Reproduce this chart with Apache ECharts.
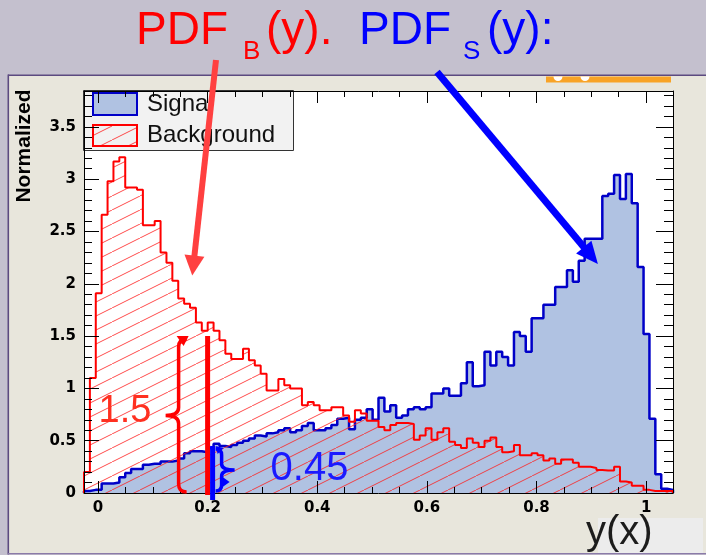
<!DOCTYPE html>
<html>
<head>
<meta charset="utf-8">
<script src="https://cdn.jsdelivr.net/npm/echarts@6/dist/echarts.min.js"></script>
<style>
  html, body { margin: 0; padding: 0; background: #c4c0ce; }
  #chart { width: 706px; height: 555px; }
</style>
</head>
<body>
<div id="chart"></div>
<script>
// MVA output range covered by the 100 histogram bins
const xRange = [-0.0255, 1.049];
const yMax = 3.843;
const yTickStep = 0.5;

// Normalised signal distribution, one value per bin
const signalValues = [
  0.02, 0.03, 0.03, 0.09, 0.09, 0.10, 0.15, 0.19, 0.23, 0.23,
  0.27, 0.28, 0.28, 0.30, 0.30, 0.31, 0.33, 0.38, 0.40, 0.40,
  0.39, 0.43, 0.47, 0.45, 0.44, 0.46, 0.48, 0.50, 0.52, 0.55,
  0.54, 0.57, 0.58, 0.60, 0.62, 0.58, 0.60, 0.64, 0.67, 0.60,
  0.60, 0.62, 0.65, 0.71, 0.72, 0.61, 0.70, 0.72, 0.80, 0.70,
  0.91, 0.78, 0.84, 0.72, 0.74, 0.80, 0.82, 0.80, 0.82, 0.95,
  0.95, 1.00, 0.93, 0.93, 1.05, 1.25, 1.02, 1.03, 1.35, 1.22,
  1.35, 1.30, 1.22, 1.54, 1.50, 1.35, 1.67, 1.67, 1.80, 1.80,
  1.97, 1.97, 2.13, 2.02, 2.22, 2.43, 2.43, 2.43, 2.84, 2.86,
  3.04, 2.81, 3.05, 2.77, 2.16, 1.52, 0.71, 0.18, 0.04, 0.03
];

// Normalised background distribution, one value per bin
const backgroundValues = [
  0.20, 1.10, 1.91, 2.66, 2.98, 3.17, 3.21, 2.92, 2.92, 2.90,
  2.56, 2.56, 2.60, 2.30, 2.20, 2.03, 1.86, 1.81, 1.77, 1.63,
  1.55, 1.63, 1.55, 1.46, 1.33, 1.28, 1.28, 1.38, 1.27, 1.22,
  1.14, 0.98, 0.98, 1.09, 1.03, 1.00, 1.00, 0.84, 0.87, 0.84,
  0.79, 0.79, 0.82, 0.82, 0.74, 0.68, 0.79, 0.76, 0.69, 0.69,
  0.63, 0.60, 0.65, 0.67, 0.67, 0.66, 0.51, 0.55, 0.62, 0.51,
  0.58, 0.62, 0.49, 0.46, 0.43, 0.52, 0.48, 0.44, 0.50, 0.53,
  0.44, 0.39, 0.40, 0.46, 0.36, 0.36, 0.38, 0.36, 0.31, 0.33,
  0.28, 0.32, 0.32, 0.29, 0.25, 0.25, 0.24, 0.22, 0.215, 0.215,
  0.25, 0.11, 0.10, 0.07, 0.07, 0.03, 0.02, 0.02, 0.02, 0.02
];

// Cut value y = 0.2 and the two PDF heights read there
const cutX = 0.2;
const cutBackground = 1.5;
const cutSignal = 0.45;

const seriesNames = ['Signal', 'Background'];

const FONT = '"Liberation Sans", Arial, Helvetica, sans-serif';
const TICK_FONT = '"DejaVu Sans", Verdana, sans-serif';
const RED = '#ff0000';
const BLUE = '#0000ff';
const SIG_FILL = '#b0c2e2';
const SIG_LINE = '#0000c8';

// Step-histogram outline: one point per left bin edge, closed down to zero at both ends
function histPoints(values) {
  const n = values.length;
  const w = (xRange[1] - xRange[0]) / n;
  const pts = [[xRange[0], 0]];
  values.forEach((v, i) => pts.push([xRange[0] + i * w, v]));
  pts.push([xRange[1], values[n - 1]]);
  pts.push([xRange[1], 0]);
  return pts;
}

// Diagonal hatch tile used for the background fill
function hatchTile() {
  const W = 28, H = 14;
  const c = document.createElement('canvas');
  c.width = W; c.height = H;
  const g = c.getContext('2d');
  g.strokeStyle = 'rgba(255,30,30,0.8)';
  g.lineWidth = 1;
  [-W, 0, W].forEach(dx => {
    g.beginPath();
    g.moveTo(dx, H);
    g.lineTo(dx + W, 0);
    g.stroke();
  });
  return c;
}
const hatch = { image: hatchTile(), repeat: 'repeat' };

function arrowParts(tail, tip, color, width, headLen, headHalf) {
  const dx = tip[0] - tail[0], dy = tip[1] - tail[1];
  const L = Math.hypot(dx, dy);
  const ux = dx / L, uy = dy / L, px = -uy, py = ux;
  const bx = tip[0] - ux * headLen, by = tip[1] - uy * headLen;
  return [
    { type: 'line', shape: { x1: tail[0], y1: tail[1], x2: bx + ux * 2, y2: by + uy * 2 },
      style: { stroke: color, lineWidth: width } },
    { type: 'polygon', shape: { points: [[tip[0], tip[1]], [bx + px * headHalf, by + py * headHalf], [bx - px * headHalf, by - py * headHalf]] },
      style: { fill: color } }
  ];
}

// Curly brace; dir = -1 opens like "{", dir = +1 like "}"
function bracePath(x, top, bot, dir, depth, r) {
  const mid = (top + bot) / 2;
  return `M ${x - dir * r} ${top} Q ${x} ${top} ${x} ${top + r} L ${x} ${mid - r} ` +
         `Q ${x} ${mid} ${x + dir * depth} ${mid} Q ${x} ${mid} ${x} ${mid + r} ` +
         `L ${x} ${bot - r} Q ${x} ${bot} ${x - dir * r} ${bot}`;
}

function renderCut(params, api) {
  const x0 = api.value(0), yB = api.value(1), yS = api.value(2);
  const pB = api.coord([x0, yB]);
  const pS = api.coord([x0, yS]);
  const p0 = api.coord([x0, 0]);
  const xs = p0[0] + 5;
  const braceRx = pB[0] - 29;
  const braceSx = xs + 9;
  const children = [
    // arrows from the title to the two distributions
    ...arrowParts([216, 60], api.coord([0.172, 2.08]), '#ff4040', 6, 20, 10),
    ...arrowParts([437, 72], api.coord([0.912, 2.19]), BLUE, 7, 22, 10),
    // background height at the cut
    { type: 'line', shape: { x1: pB[0], y1: pB[1], x2: p0[0], y2: p0[1] + 2 },
      style: { stroke: RED, lineWidth: 5 } },
    { type: 'path', shape: { pathData: bracePath(braceRx, pB[1] + 3, p0[1] - 1, -1, 13, 8) },
      style: { stroke: RED, lineWidth: 3.5, fill: null } },
    { type: 'polygon', shape: { points: [[braceRx - 2, pB[1]], [braceRx + 10, pB[1]], [braceRx + 5, pB[1] + 10]] },
      style: { fill: RED } },
    { type: 'text', x: braceRx - 80, y: (pB[1] + p0[1]) / 2 - 3,
      style: { text: String(yB), fill: '#ff3020', fontSize: 38, fontFamily: FONT, verticalAlign: 'middle', align: 'left' } },
    // signal height at the cut
    { type: 'line', shape: { x1: xs, y1: pS[1], x2: xs, y2: p0[1] + 7 },
      style: { stroke: BLUE, lineWidth: 5 } },
    { type: 'path', shape: { pathData: bracePath(braceSx, pS[1] + 3, p0[1] - 2, 1, 13, 6) },
      style: { stroke: BLUE, lineWidth: 3.5, fill: null } },
    { type: 'polygon', shape: { points: [[braceSx - 6, pS[1]], [braceSx + 2, pS[1] + 2], [braceSx - 4, pS[1] + 8]] },
      style: { fill: BLUE } },
    { type: 'polygon', shape: { points: [[braceSx + 1, p0[1] - 16], [braceSx + 8, p0[1] - 11], [braceSx + 1, p0[1] - 6]] },
      style: { fill: BLUE } },
    { type: 'text', x: xs + 58, y: (pS[1] + p0[1]) / 2,
      style: { text: String(yS), fill: '#1a1aff', fontSize: 40, fontFamily: FONT, verticalAlign: 'middle', align: 'left' } }
  ];
  return { type: 'group', children };
}

function titlePiece(text, x, y, size, color) {
  return { type: 'text', x, y, z: 6,
    style: { text, fill: color, fontSize: size, fontFamily: FONT, verticalAlign: 'middle', align: 'left' } };
}

const tickLine = { color: '#000', width: 1 };

const xAxisBase = {
  type: 'value', min: xRange[0], max: xRange[1], splitNumber: 5,
  splitLine: { show: false }, z: 5,
  axisLine: { show: true, onZero: false, lineStyle: tickLine }
};
const yAxisBase = {
  type: 'value', min: 0, max: yMax, interval: yTickStep,
  splitLine: { show: false }, z: 5,
  axisLine: { show: true, onZero: false, lineStyle: tickLine }
};

const option = {
  backgroundColor: '#e8e6dc',
  animation: false,
  grid: { left: 84, top: 91, width: 589, height: 402, show: true, backgroundColor: '#ffffff',
          borderWidth: 0, outerBoundsMode: 'none', containLabel: false },
  xAxis: [
    Object.assign({}, xAxisBase, {
      position: 'bottom',
      axisTick: { show: true, inside: true, length: 12, lineStyle: tickLine },
      minorTick: { show: true, splitNumber: 4, length: 6, lineStyle: tickLine },
      axisLabel: { show: true, showMinLabel: false, showMaxLabel: false, margin: 8,
                   color: '#000', fontSize: 15, fontWeight: 'bold', fontFamily: TICK_FONT }
    }),
    Object.assign({}, xAxisBase, {
      position: 'top',
      axisTick: { show: true, inside: true, length: 12, lineStyle: tickLine },
      minorTick: { show: true, splitNumber: 4, length: 6, lineStyle: tickLine },
      axisLabel: { show: false }
    })
  ],
  yAxis: [
    Object.assign({}, yAxisBase, {
      position: 'left',
      axisTick: { show: true, inside: true, length: 15, lineStyle: tickLine },
      minorTick: { show: true, splitNumber: 5, length: 8, lineStyle: tickLine },
      axisLabel: { show: true, showMinLabel: true, showMaxLabel: false, margin: 8,
                   color: '#000', fontSize: 15, fontWeight: 'bold', fontFamily: TICK_FONT }
    }),
    Object.assign({}, yAxisBase, {
      position: 'right',
      axisTick: { show: true, inside: true, length: 17, lineStyle: tickLine },
      minorTick: { show: true, splitNumber: 5, length: 9, lineStyle: tickLine },
      axisLabel: { show: false }
    })
  ],
  series: [
    {
      name: seriesNames[0], type: 'line', step: 'end', data: histPoints(signalValues),
      symbol: 'none', showSymbol: false, z: 2, silent: true,
      lineStyle: { color: SIG_LINE, width: 2.5 },
      areaStyle: { color: SIG_FILL, opacity: 1 }
    },
    {
      name: seriesNames[1], type: 'line', step: 'end', data: histPoints(backgroundValues),
      symbol: 'none', showSymbol: false, z: 3, silent: true,
      lineStyle: { color: RED, width: 2 },
      areaStyle: { color: hatch, opacity: 1 }
    },
    {
      name: 'cut', type: 'custom', coordinateSystem: 'cartesian2d',
      data: [[cutX, cutBackground, cutSignal]], encode: { x: 0, y: [1, 2] },
      renderItem: renderCut, z: 10, silent: true, clip: false
    }
  ],
  graphic: [
    // slide frame around the canvas
    { type: 'rect', z: 0, shape: { x: 0, y: 0, width: 706, height: 75 }, style: { fill: '#c4c0ce' } },
    { type: 'rect', z: 0, shape: { x: 0, y: 75, width: 8, height: 480 }, style: { fill: '#c4c0ce' } },
    { type: 'rect', z: 0, shape: { x: 0, y: 554, width: 706, height: 1 }, style: { fill: '#c4c0ce' } },
    { type: 'rect', z: 1, shape: { x: 8, y: 74.5, width: 698, height: 1.6 }, style: { fill: '#5c4a80' } },
    { type: 'rect', z: 1, shape: { x: 7.5, y: 74.5, width: 1.6, height: 480 }, style: { fill: '#5c4a80' } },
    { type: 'rect', z: 1, shape: { x: 8, y: 553, width: 698, height: 1.2 }, style: { fill: '#8a7aa8' } },
    // orange toolbar strip
    { type: 'rect', z: 1, shape: { x: 546, y: 76.5, width: 125, height: 6 }, style: { fill: '#f8a326' } },
    { type: 'sector', z: 2, shape: { cx: 558, cy: 76.5, r: 4.5, startAngle: 0, endAngle: Math.PI }, style: { fill: '#ffffff' } },
    { type: 'sector', z: 2, shape: { cx: 585, cy: 76.5, r: 4.5, startAngle: 0, endAngle: Math.PI }, style: { fill: '#ffffff' } },
    // title
    titlePiece('PDF', 136, 31, 46, RED),
    titlePiece('B', 243, 52, 26, RED),
    titlePiece('(y).', 266, 31, 46, RED),
    titlePiece('PDF', 359, 31, 46, BLUE),
    titlePiece('S', 463, 52, 26, BLUE),
    titlePiece('(y):', 487, 31, 46, BLUE),
    // y axis title
    { type: 'text', z: 6, x: 24, y: 146, rotation: Math.PI / 2,
      style: { text: 'Normalized', fill: '#000', fontSize: 21, fontWeight: 'bold', fontFamily: FONT,
               align: 'center', verticalAlign: 'middle' } },
    // legend
    { type: 'rect', z: 4, shape: { x: 83.5, y: 90.5, width: 210, height: 60 },
      style: { fill: '#f2f2f2', stroke: '#333', lineWidth: 1 } },
    { type: 'rect', z: 4, shape: { x: 93, y: 93, width: 44, height: 22 },
      style: { fill: SIG_FILL, stroke: SIG_LINE, lineWidth: 2 } },
    { type: 'rect', z: 4, shape: { x: 93, y: 125, width: 44, height: 21 },
      style: { fill: hatch, stroke: RED, lineWidth: 2 } },
    { type: 'text', z: 4, x: 147, y: 104,
      style: { text: seriesNames[0], fill: '#111', fontSize: 24, fontFamily: FONT, verticalAlign: 'middle' } },
    { type: 'text', z: 4, x: 147, y: 135,
      style: { text: seriesNames[1], fill: '#111', fontSize: 24, fontFamily: FONT, verticalAlign: 'middle' } },
    // x axis title
    { type: 'rect', z: 4, shape: { x: 598, y: 518, width: 105, height: 35 }, style: { fill: '#ececec' } },
    { type: 'text', z: 5, x: 586, y: 533,
      style: { text: 'y(x)', fill: '#1c1c1c', fontSize: 40, fontFamily: FONT, verticalAlign: 'middle' } }
  ]
};

const chart = echarts.init(document.getElementById('chart'), null, { renderer: 'canvas' });
chart.setOption(option);
</script>
</body>
</html>
